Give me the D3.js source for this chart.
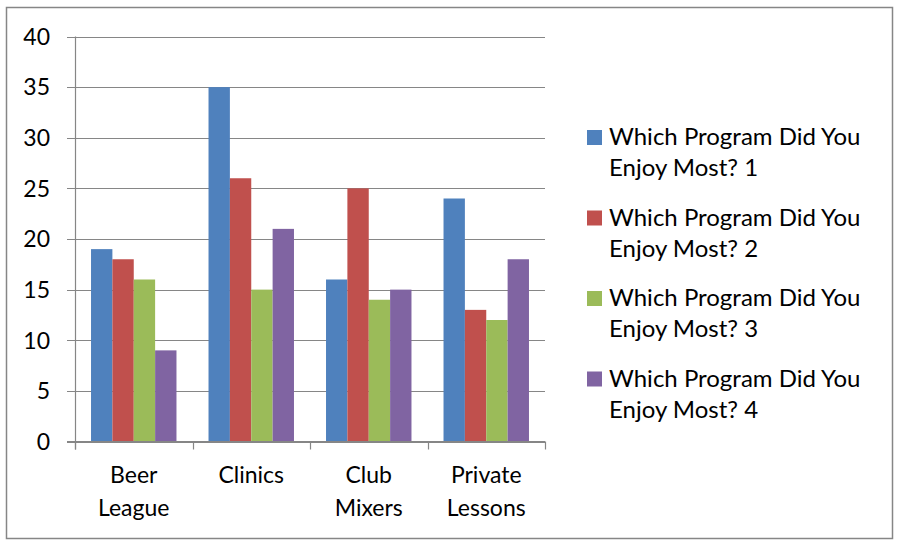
<!DOCTYPE html>
<html><head><meta charset="utf-8">
<script src="https://cdn.jsdelivr.net/npm/d3@7"></script>
<style>body{margin:0;background:#fff}svg{display:block}text{font-family:Lato,"Open Sans",sans-serif;fill:#000}</style>
</head><body>
<svg id="c" width="899" height="544"></svg>
<script>
const categories = [["Beer","League"],["Clinics"],["Club","Mixers"],["Private","Lessons"]];
const seriesNames = ["Which Program Did You Enjoy Most? 1","Which Program Did You Enjoy Most? 2","Which Program Did You Enjoy Most? 3","Which Program Did You Enjoy Most? 4"];
const series1 = [19,35,16,24];
const series2 = [18,26,25,13];
const series3 = [16,15,14,12];
const series4 = [9,21,15,18];
const yTicks = [0,5,10,15,20,25,30,35,40];
const colors = ["#4F81BD","#C0504D","#9BBB59","#8064A2"];
const allSeries = [series1,series2,series3,series4];

const svg = d3.select("#c");
svg.append("rect").attr("x",6.5).attr("y",7.5).attr("width",886).attr("height",531)
  .attr("fill","#fff").attr("stroke","#868686").attr("stroke-width",1.5);

const L=75, R=545, T=36.5, B=441.5;
const x = d3.scaleBand().domain(d3.range(categories.length)).range([L,R]).paddingInner(0).paddingOuter(0);
const y = d3.scaleLinear().domain([0,40]).range([B,T]);
const bw = x.bandwidth()/5.5;

svg.append("g").selectAll("line").data(yTicks).join("line")
  .attr("x1",67).attr("x2",R).attr("y1",d=>Math.round(y(d))+0.5).attr("y2",d=>Math.round(y(d))+0.5)
  .attr("stroke","#868686").attr("stroke-width",1);

allSeries.forEach((s,si)=>{
  svg.append("g").selectAll("rect").data(s).join("rect")
    .attr("x",(d,i)=>x(i)+0.75*bw+si*bw)
    .attr("width",bw)
    .attr("y",d=>y(d))
    .attr("height",d=>B-y(d))
    .attr("fill",colors[si]);
});

svg.append("line").attr("x1",L+0.5).attr("x2",L+0.5).attr("y1",T).attr("y2",B+8).attr("stroke","#868686").attr("stroke-width",1.2);
svg.append("line").attr("x1",67).attr("x2",R).attr("y1",B).attr("y2",B).attr("stroke","#868686").attr("stroke-width",1.2);
const bounds = d3.range(categories.length+1).map(i=>i<categories.length?x(i):R);
svg.append("g").selectAll("line").data(bounds).join("line")
  .attr("x1",d=>Math.round(d)+0.5).attr("x2",d=>Math.round(d)+0.5).attr("y1",B).attr("y2",B+8)
  .attr("stroke","#868686").attr("stroke-width",1.2);

svg.append("g").selectAll("text").data(yTicks).join("text")
  .attr("x",50).attr("y",d=>y(d)).attr("dy","0.36em").attr("text-anchor","end")
  .attr("font-size",23).text(d=>d);

categories.forEach((c,i)=>{
  const t = svg.append("text").attr("text-anchor","middle").attr("font-size",23);
  c.forEach((ln,j)=>t.append("tspan").attr("x",x(i)+x.bandwidth()/2).attr("y",483+j*33).text(ln));
});

seriesNames.forEach((n,i)=>{
  const g = svg.append("g").attr("transform",`translate(0,${i*80.5})`);
  g.append("rect").attr("x",587).attr("y",130).attr("width",15).attr("height",15).attr("fill",colors[i]);
  const parts = [n.slice(0,n.indexOf(" Enjoy")), n.slice(n.indexOf("Enjoy"))];
  const t = g.append("text").attr("font-size",24);
  parts.forEach((p,j)=>t.append("tspan").attr("x",609).attr("y",145+j*31).text(p));
});
</script>
</body></html>
